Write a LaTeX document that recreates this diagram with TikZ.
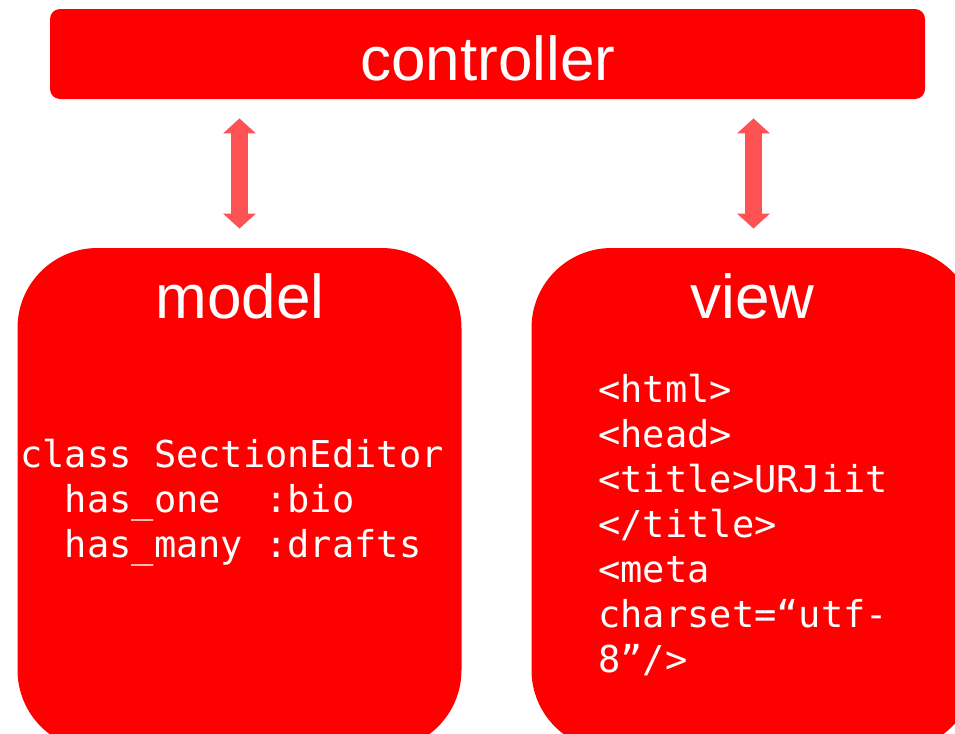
\documentclass[tikz,border=0pt]{standalone}
\usepackage{fontspec}
\setmainfont{Liberation Sans}
\newfontfamily\codefont{DejaVu Sans Mono}
\usetikzlibrary{arrows.meta}
\definecolor{mvcred}{RGB}{254,0,0}
\definecolor{linkred}{RGB}{255,82,82}

\begin{document}
\begin{tikzpicture}[
  x=0.5pt, y=-0.5pt,
  bar/.style={fill=mvcred, rounded corners=5pt, minimum width=437.5pt, minimum height=45pt, inner sep=0pt},
  panel/.style={fill=mvcred, rounded corners=40pt, minimum width=222pt, minimum height=251pt, inner sep=0pt},
  heading/.style={text=white, font=\fontsize{31}{31}\selectfont, inner sep=0pt, anchor=base},
  code/.style={text=white, font=\codefont\fontsize{18.5}{22.5}\selectfont, align=left, inner sep=0pt, anchor=base west},
  link/.style={draw=linkred, line width=8.5pt, {Triangle[width=16pt,length=7.5pt]}-{Triangle[width=16pt,length=7.5pt]}, shorten <=9.5pt, shorten >=9.5pt},
]
\useasboundingbox (0,0) rectangle (955,734);
\clip (0,0) rectangle (955,734);

% Controller bar
\node[bar] (controller) at (487.5,54) {};
\node[heading] (ctrltitle) at (488,80) {controller};

% Model and view panels (run off the page)
\node[panel] (model) at (239.5,499) {};
\node[panel] (view) at (753.5,499) {};

\node[heading] (modeltitle) at (240,318) {model};
\node[heading] (viewtitle) at (752.5,318) {view};

% Panel contents (base = last line)
\node[code] (modelcode) at (20,557)
  {class SectionEditor\\~~has\_one~~:bio\\~~has\_many~:drafts};
\node[code] (viewcode) at (598,672)
  {<html>\\<head>\\<title>URJiit\\</title>\\<meta\\charset=“utf-\\8”/>};

% Two-way links to the controller
\draw[link] (model.north) -- (model.north |- controller.south);
\draw[link] (view.north) -- (view.north |- controller.south);

\end{tikzpicture}
\end{document}
